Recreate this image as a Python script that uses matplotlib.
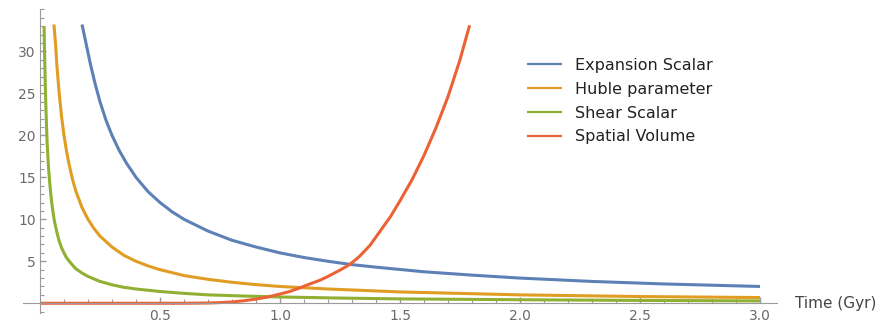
import matplotlib
matplotlib.use('Agg')
import matplotlib.pyplot as plt
from matplotlib.ticker import MultipleLocator, FixedLocator

# Values (time in Gyr)
t_expansion = [0.175, 0.19, 0.21, 0.23, 0.25, 0.275, 0.3, 0.33, 0.36, 0.4, 0.45, 0.5, 0.55, 0.6, 0.7, 0.8,
               0.9, 1.0, 1.1, 1.2, 1.3, 1.4, 1.6, 1.8, 2.0, 2.3, 2.6, 3.0]
expansion = [33.2, 31.2, 28.5, 26.1, 24.0, 21.8, 20.0, 18.2, 16.7, 15.0, 13.3, 12.0, 10.9, 10.0, 8.6, 7.5,
             6.7, 6.0, 5.45, 5.0, 4.6, 4.3, 3.75, 3.35, 3.0, 2.6, 2.3, 2.0]

t_hubble = [0.058, 0.065, 0.07, 0.075, 0.08, 0.09, 0.1, 0.11, 0.12, 0.135, 0.15, 0.175, 0.2, 0.225, 0.25, 0.3,
            0.35, 0.4, 0.45, 0.5, 0.6, 0.7, 0.8, 0.9, 1.0, 1.2, 1.5, 2.0, 2.5, 3.0]
hubble = [33.2, 30.8, 28.5, 26.7, 25.0, 22.2, 20.0, 18.2, 16.7, 14.8, 13.3, 11.4, 10.0, 8.9, 8.0, 6.7,
          5.7, 5.0, 4.45, 4.0, 3.3, 2.85, 2.5, 2.22, 2.0, 1.7, 1.35, 1.0, 0.8, 0.68]

t_shear = [0.017, 0.0185, 0.02, 0.0225, 0.025, 0.0275, 0.03, 0.035, 0.04, 0.045, 0.05, 0.055, 0.06, 0.07, 0.08,
           0.09, 0.1, 0.11, 0.125, 0.14, 0.15, 0.175, 0.2, 0.25, 0.3, 0.35, 0.4, 0.5, 0.6, 0.7, 0.85, 1.0,
           1.25, 1.5, 2.0, 2.5, 3.0]
shear = [33.0, 30.5, 28.5, 25.5, 23.0, 20.8, 19.0, 16.4, 14.5, 13.0, 11.7, 10.7, 9.8, 8.5, 7.4,
         6.6, 6.0, 5.45, 4.9, 4.4, 4.1, 3.6, 3.2, 2.6, 2.2, 1.9, 1.7, 1.4, 1.18, 1.0, 0.86, 0.75,
         0.62, 0.52, 0.42, 0.34, 0.28]

t_volume = [0.0, 0.6, 0.7, 0.75, 0.8, 0.85, 0.9, 0.95, 1.0, 1.04, 1.08, 1.12, 1.167, 1.2, 1.25, 1.29, 1.33,
            1.375, 1.42, 1.46, 1.5, 1.55, 1.6, 1.65, 1.7, 1.75, 1.79]
volume = [0.0, 0.0, 0.03, 0.08, 0.15, 0.3, 0.5, 0.75, 1.1, 1.4, 1.8, 2.25, 2.75, 3.2, 3.95, 4.6, 5.55,
          6.9, 8.7, 10.3, 12.2, 14.7, 17.6, 20.9, 24.6, 29.0, 33.1]

labels = ['Expansion Scalar', 'Huble parameter', 'Shear Scalar', 'Spatial Volume']
colors = ['#5E81B5', '#E19C24', '#8FB032', '#EB6235']

fig = plt.figure(figsize=(8.82, 3.22), dpi=100)
ax = fig.add_axes([0.0263, 0.0295, 0.8544, 0.944])

series = [(t_expansion, expansion), (t_hubble, hubble), (t_shear, shear), (t_volume, volume)]
for (t, v), lab, c in zip(series, labels, colors):
    ax.plot(t, v, color=c, lw=2.2, label=lab, solid_capstyle='butt')

ax.set_xlim(-0.07, 3.07)
ax.set_ylim(-1.1, 35.1)

# Mathematica-like axes crossing at the origin
axis_col = '#9a9a9a'
for side in ['top', 'right']:
    ax.spines[side].set_visible(False)
ax.spines['left'].set_position(('data', 0))
ax.spines['bottom'].set_position(('data', 0))
ax.spines['left'].set_color(axis_col)
ax.spines['bottom'].set_color(axis_col)

ax.xaxis.set_major_locator(FixedLocator([0.5, 1.0, 1.5, 2.0, 2.5, 3.0]))
ax.xaxis.set_minor_locator(MultipleLocator(0.1))
ax.yaxis.set_major_locator(FixedLocator([5, 10, 15, 20, 25, 30]))
ax.yaxis.set_minor_locator(MultipleLocator(1))
ax.xaxis.set_major_formatter(matplotlib.ticker.FormatStrFormatter('%.1f'))

ax.tick_params(which='both', direction='in', color=axis_col, labelcolor='#6a6a6a', labelsize=10)
ax.tick_params(which='major', length=4.5, width=1)
ax.tick_params(which='minor', length=3, width=0.8)
ax.tick_params(axis='x', pad=4)
ax.tick_params(axis='y', pad=3)

ax.annotate('Time (Gyr)', xy=(3.07, 0), xytext=(13, 0), textcoords='offset points',
            ha='left', va='center', fontsize=11, color='#444444', annotation_clip=False)

leg = ax.legend(loc='upper left', bbox_to_anchor=(527 / 882, 1 - 58 / 322), bbox_transform=fig.transFigure,
                frameon=False, fontsize=11.5, handlelength=2.2, handletextpad=0.8, labelspacing=0.55,
                borderpad=0, borderaxespad=0, labelcolor='#222222')
for h in leg.legend_handles:
    h.set_linewidth(1.6)

fig.savefig('out.png', dpi=100)
